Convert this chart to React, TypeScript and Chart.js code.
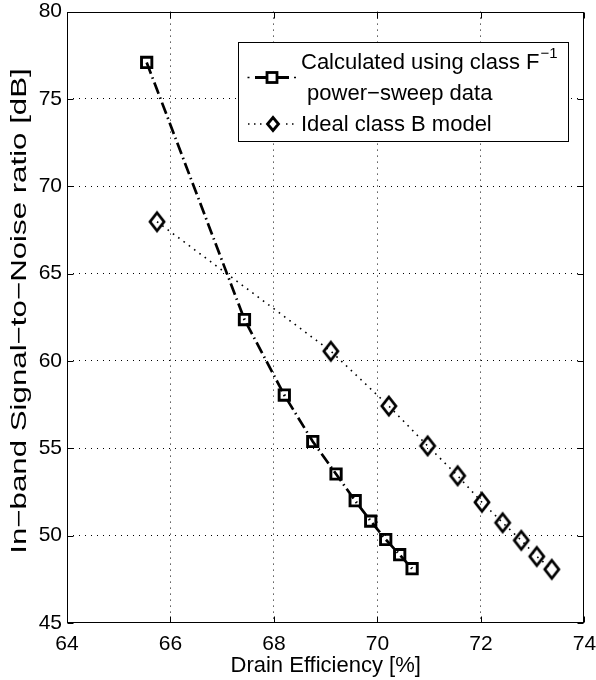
import React, { useEffect, useRef } from "react";
import { Chart, registerables } from "chart.js";

Chart.register(...registerables);

// ---- data ----
const calcEfficiency = [65.54, 67.43, 68.2, 68.75, 69.2, 69.57, 69.87, 70.16, 70.43, 70.67];
const calcSnr = [77.09, 62.37, 58.05, 55.39, 53.53, 52.0, 50.83, 49.78, 48.91, 48.11];
const idealEfficiency = [65.74, 69.1, 70.22, 70.97, 71.55, 72.02, 72.42, 72.78, 73.08, 73.37];
const idealSnr = [67.97, 60.56, 57.42, 55.14, 53.43, 51.91, 50.74, 49.73, 48.81, 48.07];
const xTicks = [64, 66, 68, 70, 72, 74];
const yTicks = [45, 50, 55, 60, 65, 70, 75, 80];
const calcLabelLines = ["Calculated using class F", " power\u2212sweep data"];
const calcLabelSup = "\u22121";
const idealLabel = "Ideal class B model";
const xTitle = "Drain Efficiency [%]";
const yTitle = "In\u2212band Signal\u2212to\u2212Noise ratio [dB]";

const FONT = '"Liberation Sans", Arial, Helvetica, sans-serif';

function makeDiamond(hw: number, hh: number, lw: number): HTMLCanvasElement {
  const c = document.createElement("canvas");
  const w = Math.ceil(2 * hw + 2 * lw + 2);
  const h = Math.ceil(2 * hh + 2 * lw + 4);
  c.width = w;
  c.height = h;
  const g = c.getContext("2d")!;
  g.strokeStyle = "#000";
  g.lineWidth = lw;
  g.lineJoin = "miter";
  g.beginPath();
  g.moveTo(w / 2, h / 2 - hh);
  g.lineTo(w / 2 + hw, h / 2);
  g.lineTo(w / 2, h / 2 + hh);
  g.lineTo(w / 2 - hw, h / 2);
  g.closePath();
  g.stroke();
  return c;
}

const framePlugin = {
  id: "matlabFrame",
  afterDraw(chart: any) {
    const { ctx, chartArea: a, scales } = chart;
    const sx = scales.x;
    const sy = scales.y;
    ctx.save();
    ctx.setLineDash([]);
    ctx.strokeStyle = "#000";
    ctx.lineWidth = 1;
    const L = Math.round(a.left) + 0.5;
    const R = Math.round(a.right) - 0.5;
    const T = Math.round(a.top) + 0.5;
    const B = Math.round(a.bottom) - 0.5;
    ctx.strokeRect(L, T, R - L, B - T);
    const tl = 6;
    ctx.beginPath();
    xTicks.forEach((v) => {
      const p = Math.round(sx.getPixelForValue(v)) + 0.5;
      ctx.moveTo(p, B);
      ctx.lineTo(p, B - tl);
      ctx.moveTo(p, T);
      ctx.lineTo(p, T + tl);
    });
    yTicks.forEach((v) => {
      const p = Math.round(sy.getPixelForValue(v)) + 0.5;
      ctx.moveTo(L, p);
      ctx.lineTo(L + tl, p);
      ctx.moveTo(R, p);
      ctx.lineTo(R - tl, p);
    });
    ctx.stroke();

    // y-axis title (elongated along the reading direction, as in the reference)
    ctx.save();
    ctx.fillStyle = "#000";
    ctx.font = `22px ${FONT}`;
    ctx.textAlign = "center";
    ctx.textBaseline = "alphabetic";
    ctx.translate(26, 311);
    ctx.rotate(-Math.PI / 2);
    ctx.scale(1.42, 1);
    ctx.fillText(yTitle, 0, 0);
    ctx.restore();

    // legend
    const bx = 238, by = 42, bw = 331, bh = 100;
    ctx.fillStyle = "#fff";
    ctx.fillRect(bx, by, bw, bh);
    ctx.strokeRect(bx + 0.5, by + 0.5, bw - 1, bh - 1);

    ctx.fillStyle = "#000";
    ctx.textBaseline = "alphabetic";
    ctx.textAlign = "left";
    ctx.font = `22px ${FONT}`;
    const tx = 301;
    ctx.fillText(calcLabelLines[0], tx, 69);
    const w0 = ctx.measureText(calcLabelLines[0]).width;
    ctx.fillText(calcLabelLines[1], tx, 100);
    ctx.fillText(idealLabel, tx, 131);
    ctx.font = `15px ${FONT}`;
    ctx.fillText(calcLabelSup, tx + w0 + 1, 58);

    // sample 1: dash-dot with square
    const s1y = 77.5;
    ctx.lineWidth = 1.5;
    ctx.beginPath();
    ctx.moveTo(247.5, s1y);
    ctx.lineTo(249.5, s1y);
    ctx.moveTo(294, s1y);
    ctx.lineTo(296, s1y);
    ctx.stroke();
    ctx.lineWidth = 2.8;
    ctx.beginPath();
    ctx.moveTo(255, s1y);
    ctx.lineTo(289, s1y);
    ctx.stroke();
    ctx.fillStyle = "#fff";
    ctx.fillRect(272 - 5, s1y - 5, 10, 10);
    ctx.strokeRect(272 - 5, s1y - 5, 10, 10);

    // sample 2: dotted with diamond
    const s2y = 124;
    ctx.lineWidth = 1.5;
    ctx.beginPath();
    [248, 254, 260, 286, 292].forEach((px) => {
      ctx.moveTo(px, s2y);
      ctx.lineTo(px + 1.5, s2y);
    });
    ctx.stroke();
    ctx.lineWidth = 2.8;
    ctx.lineJoin = "miter";
    ctx.beginPath();
    ctx.moveTo(273, s2y - 6.5);
    ctx.lineTo(278.5, s2y);
    ctx.lineTo(273, s2y + 6.5);
    ctx.lineTo(267.5, s2y);
    ctx.closePath();
    ctx.stroke();
    ctx.restore();
  },
};

export default function App() {
  const ref = useRef<HTMLCanvasElement | null>(null);

  useEffect(() => {
    document.body.style.margin = "0";
    const canvas = ref.current;
    if (!canvas) return;
    const diamond = makeDiamond(7, 9, 2.8);
    const edgeX = (v: number) => v === xTicks[0] || v === xTicks[xTicks.length - 1];
    const edgeY = (v: number) => v === yTicks[0] || v === yTicks[yTicks.length - 1];

    const chart = new Chart(canvas, {
      type: "line",
      data: {
        datasets: [
          {
            label: "calc",
            data: calcEfficiency.map((x, i) => ({ x, y: calcSnr[i] })),
            borderColor: "#000",
            borderWidth: 2.7,
            borderDash: [12, 4, 1.5, 4],
            pointStyle: "rect",
            pointRadius: 7.3,
            pointBorderWidth: 2.9,
            pointBorderColor: "#000",
            pointBackgroundColor: "rgba(0,0,0,0)",
            tension: 0,
            fill: false,
          },
          {
            label: "ideal",
            data: idealEfficiency.map((x, i) => ({ x, y: idealSnr[i] })),
            borderColor: "#000",
            borderWidth: 1.6,
            borderDash: [1.6, 5],
            pointStyle: diamond as any,
            pointRadius: 10,
            pointBorderColor: "#000",
            pointBackgroundColor: "rgba(0,0,0,0)",
            tension: 0,
            fill: false,
          },
        ],
      },
      options: {
        responsive: false,
        animation: false,
        devicePixelRatio: 1,
        layout: { padding: { left: 0, top: 9, right: 10, bottom: 0 } },
        plugins: {
          legend: { display: false },
          tooltip: { enabled: false },
        },
        scales: {
          x: {
            type: "linear",
            min: 64,
            max: 74,
            afterBuildTicks: (s: any) => {
              s.ticks = xTicks.map((value) => ({ value }));
            },
            afterFit: (s: any) => {
              s.height = 57;
              s.paddingLeft = 0;
              s.paddingRight = 0;
            },
            ticks: {
              color: "#000",
              padding: 9,
              maxRotation: 0,
              autoSkip: false,
              font: { family: FONT, size: 21 },
            },
            grid: {
              drawTicks: false,
              lineWidth: 1,
              color: (c: any) => (c.tick && edgeX(c.tick.value) ? "rgba(0,0,0,0)" : "#000"),
            },
            border: { display: false, dash: [1, 5] },
            title: {
              display: true,
              text: xTitle,
              color: "#000",
              font: { family: FONT, size: 22 },
              padding: { top: 0, bottom: 1 },
            },
          },
          y: {
            type: "linear",
            min: 45,
            max: 80,
            afterBuildTicks: (s: any) => {
              s.ticks = yTicks.map((value) => ({ value }));
            },
            afterFit: (s: any) => {
              s.width = 67;
              s.paddingTop = 0;
              s.paddingBottom = 0;
            },
            ticks: {
              color: "#000",
              padding: 5,
              autoSkip: false,
              font: { family: FONT, size: 21 },
            },
            grid: {
              drawTicks: false,
              lineWidth: 1,
              color: (c: any) => (c.tick && edgeY(c.tick.value) ? "rgba(0,0,0,0)" : "#000"),
            },
            border: { display: false, dash: [1, 5] },
            title: { display: false, text: yTitle },
          },
        },
      },
      plugins: [framePlugin],
    } as any);

    return () => chart.destroy();
  }, []);

  return (
    <canvas
      ref={ref}
      width={596}
      height={680}
      style={{ display: "block", width: "596px", height: "680px" }}
    />
  );
}
